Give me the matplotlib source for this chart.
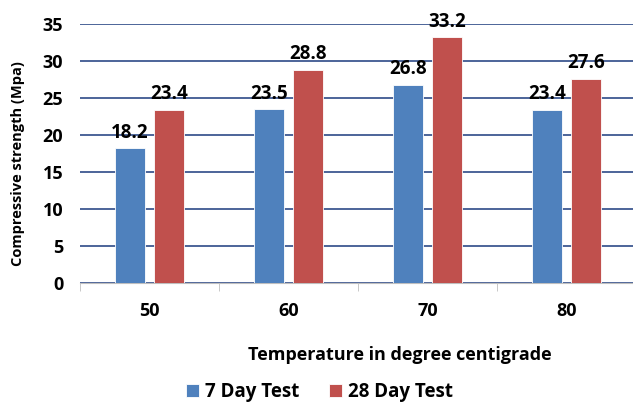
import numpy as np
import matplotlib.pyplot as plt

temps = ['50', '60', '70', '80']
day7 = [18.2, 23.5, 26.8, 23.4]
day28 = [23.4, 28.8, 33.2, 27.6]
series_names = ['7 Day Test', '28 Day Test']

plt.rcParams['font.family'] = ['Open Sans', 'DejaVu Sans']
plt.rcParams['font.weight'] = 'bold'

fig = plt.figure(figsize=(6.33, 4.07), dpi=100)
ax = fig.add_axes([80 / 633, 1 - 283 / 407, 556 / 633, 259 / 407])

x = np.arange(len(temps))
w = 0.22
off = 0.14
b1 = ax.bar(x - off, day7, w, color='#4F81BD', edgecolor='white', linewidth=0.6,
            label=series_names[0], zorder=3)
b2 = ax.bar(x + off, day28, w, color='#C0504D', edgecolor='white', linewidth=0.6,
            label=series_names[1], zorder=3)

for bars, vals in ((b1, day7), (b2, day28)):
    for b, v in zip(bars, vals):
        ax.annotate('%.1f' % v, (b.get_x() + b.get_width() / 2, v),
                    xytext=(0, 4), textcoords='offset points',
                    ha='center', va='bottom', fontsize=13.5, fontweight='bold',
                    zorder=4)

ax.set_xlim(-0.5, len(temps) - 0.5)
ax.set_ylim(0, 35)
ax.set_yticks(range(0, 36, 5))
ax.yaxis.grid(True, color='#2E4A87', linewidth=1.2, zorder=0)
ax.set_axisbelow(True)

ax.set_xticks(x)
ax.set_xticklabels(temps)
ax.set_xticks(np.arange(-0.5, len(temps), 1), minor=True)
ax.tick_params(axis='x', which='major', length=0, pad=14, labelsize=13)
ax.tick_params(axis='x', which='minor', length=6, color='#BFBFBF')
ax.tick_params(axis='y', length=0, pad=12, labelsize=13)

for s in ['top', 'right', 'left']:
    ax.spines[s].set_visible(False)
ax.spines['bottom'].set_color('#BFBFBF')

fig.text(0.029, 1 - 164 / 407, 'Compressive strength (Mpa)', rotation=90,
         ha='center', va='center', fontsize=10.5, fontweight='bold')
fig.text(0.632, 1 - 355 / 407, 'Temperature in degree centigrade',
         ha='center', va='center', fontsize=13, fontweight='bold')

fig.legend(handles=[b1, b2], loc='center', bbox_to_anchor=(0.505, 1 - 392 / 407),
           ncol=2, frameon=False, fontsize=13.5, handlelength=0.7,
           handleheight=0.7, handletextpad=0.3, columnspacing=1.6)

fig.savefig('out.png', dpi=100)
